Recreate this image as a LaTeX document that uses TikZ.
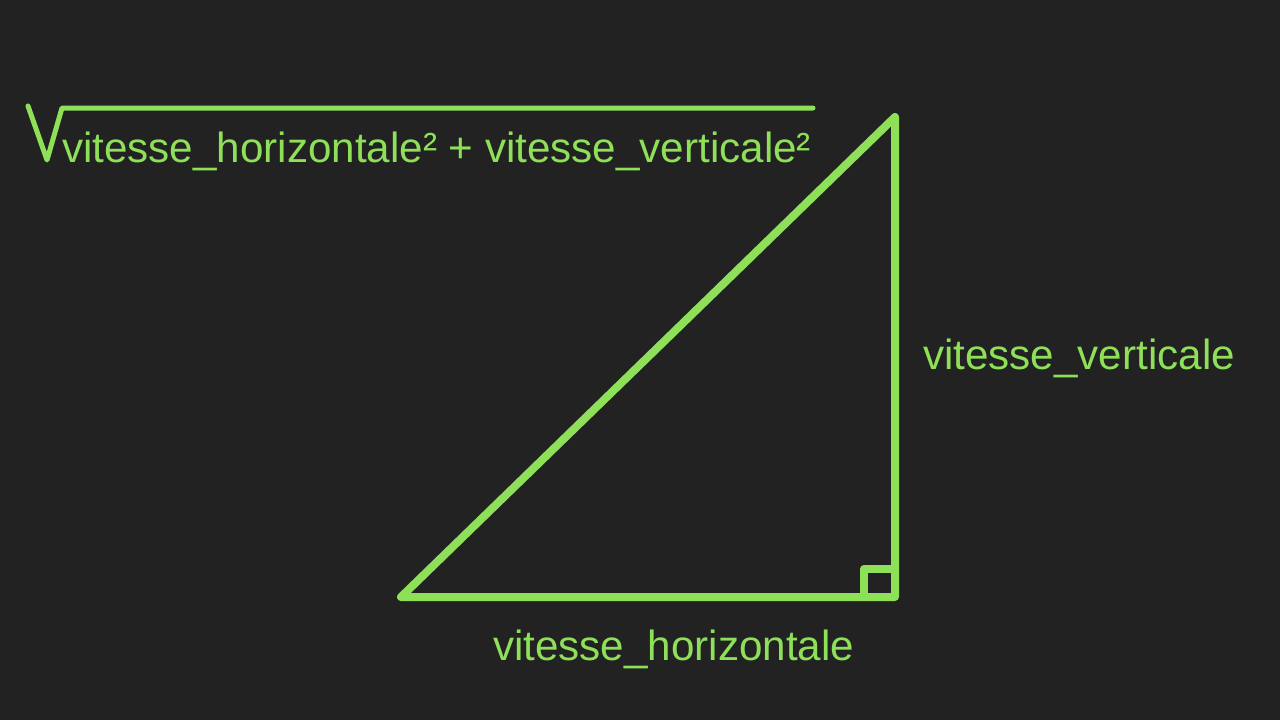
\documentclass[tikz,border=0pt]{standalone}
\usepackage{fontspec}
\setmainfont{Liberation Sans}
\usepackage{tikz}
\definecolor{slateBg}{RGB}{34,34,34}
\definecolor{limeLine}{RGB}{143,224,89}
\tikzset{lbl/.style={text=limeLine, inner sep=0pt, anchor=base west, font=\fontsize{60}{60}\selectfont}}

\begin{document}
\begin{tikzpicture}[x=0.05cm, y=-0.05cm]
  
  \fill [slateBg] (0,0) rectangle (1280,720);
  \coordinate (A) at (401,597);
  \coordinate (B) at (895,597);
  \coordinate (C) at (895,117);
  \draw [limeLine, line width=8*1.4226pt, line join=round, line cap=round] (A) -- (B) -- (C) -- cycle;
  \draw [limeLine, line width=8*1.4226pt, line join=round] (864,597) -- (864,569) -- (895,569);
  \draw [limeLine, line width=5*1.4226pt, line join=round, line cap=round] (28,106) -- (47,160) -- (62,108) -- (813,108);
  \node [lbl] (hyp) at (62,162) {vitesse\_horizontale² + vitesse\_verticale²};
  \node [lbl] (vert) at (923,369) {vitesse\_verticale};
  \node [lbl] (horiz) at (493,660) {vitesse\_horizontale};
\end{tikzpicture}
\end{document}
